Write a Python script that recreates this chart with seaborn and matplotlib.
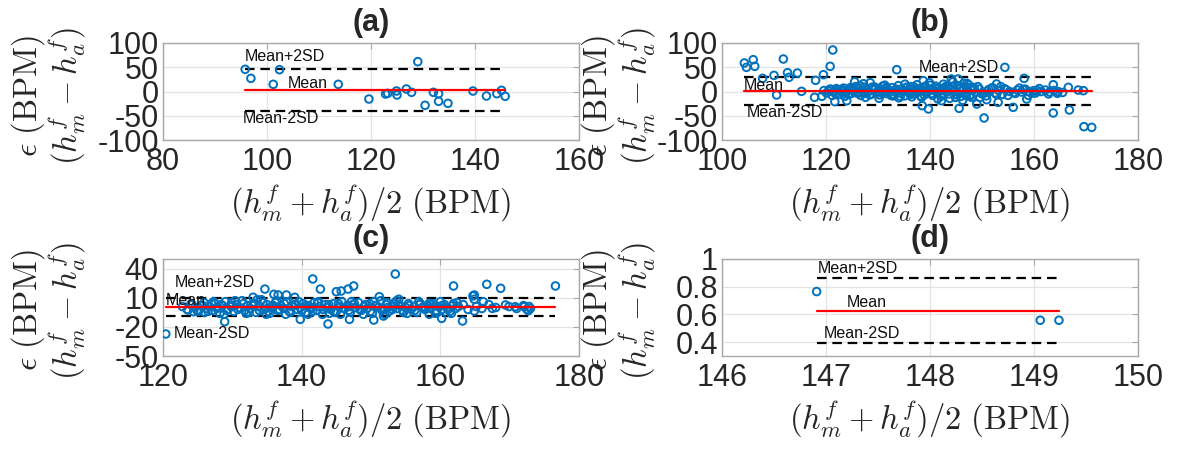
import numpy as np
import matplotlib
matplotlib.use("Agg")
import matplotlib.pyplot as plt
import seaborn as sns
import pandas as pd

sns.set_theme(style="white")
plt.rcParams['font.family'] = ['Liberation Sans', 'DejaVu Sans']
plt.rcParams['mathtext.fontset'] = 'cm'

# ---------------- data ----------------
# panel (a)
a_x = [95.8, 96.9, 102.4, 101.2, 113.7, 129.0, 119.6, 122.8, 123.2, 124.9, 125.0,
       126.8, 127.8, 130.4, 132.0, 133.0, 133.0, 134.8, 139.6, 142.2, 144.2, 145.1, 145.8]
a_y = [45.7, 27.1, 45.0, 14.8, 14.8, 61.5, -15.5, -5.2, -3.8, 1.0, -7.2,
       5.2, -1.7, -28.5, -1.7, -4.5, -20.2, -24.4, 1.0, -9.3, -4.5, 2.4, -9.9]

# panel (b)
b_x = [104.3, 104.7, 106.0, 106.3, 107.8, 110.0, 110.5, 111.8, 112.6, 112.9, 114.5, 115.3,
       117.8, 118.0, 119.5, 120.8, 121.3, 119.2, 121.7, 124.0,
       133.6, 154.4, 158.1, 138.5, 139.7, 145.6, 150.4, 149.0, 150.9, 153.1, 156.0, 158.6,
       163.7, 166.8, 163.7, 166.6, 148.2, 152.8, 147.7, 149.6, 142.2, 145.4, 144.1, 138.7,
       147.1, 169.6, 171.1, 168.5, 169.5, 164.5, 159.9,
       119.6, 120.1, 120.5, 121.0, 121.4, 121.8, 122.3, 122.6, 123.0, 123.4, 123.8, 124.1,
       124.5, 124.9, 125.2, 125.5, 125.7, 126.0, 126.3, 126.7, 127.0, 127.2, 127.5, 127.9,
       128.2, 128.5, 128.8, 129.1, 129.4, 129.7, 130.0, 130.3, 130.6, 130.9, 131.2, 131.5,
       131.8, 132.1, 132.4, 132.7, 133.0, 133.3, 133.6, 133.9, 134.2, 134.5, 134.8, 135.1,
       135.4, 135.7, 136.0, 136.3, 136.6, 136.9, 137.2, 137.5, 137.8, 138.1, 138.4, 138.7,
       139.0, 139.3, 139.6, 139.9, 140.2, 140.5, 140.8, 141.1, 141.4, 141.7, 142.0, 142.3,
       142.6, 142.9, 143.2, 143.5, 143.8, 144.1, 144.4, 144.7, 145.0, 145.3, 145.6, 145.9,
       146.2, 146.5, 146.8, 147.2, 147.7, 148.3, 148.8, 149.5, 150.3, 151.0, 151.8, 152.5,
       153.2, 153.9, 154.6, 155.3, 156.1, 156.8, 157.6, 158.3, 159.1, 159.9, 160.6, 161.4,
       162.2, 163.0, 163.8, 164.6, 165.5,
       121.2, 122.0, 123.6, 124.7, 126.5, 127.6, 128.9, 130.2, 131.3, 132.9, 134.0, 135.2,
       136.5, 137.0, 138.9, 140.0, 141.5, 143.0, 144.9, 146.0, 146.3, 147.4, 148.0, 149.2,
       150.8, 152.0, 153.6, 155.0, 157.2, 158.9, 161.0, 162.8,
       120.8, 121.9, 123.1, 124.3, 125.3, 126.1, 127.4, 128.4, 129.5, 130.5, 131.6, 132.5,
       133.5, 134.3, 135.5, 136.2, 137.3, 138.2, 139.1, 140.3, 141.0, 142.1, 142.7, 143.6,
       144.5, 145.2, 146.4, 147.0, 148.5, 150.0, 151.3, 152.8, 154.3, 156.4, 157.9, 160.3]
b_y = [58.8, 49.8, 65.6, 51.9, 27.1, 33.3, -7.2, 67.0, 38.8, 29.2, 38.1, 0.3,
       -12.0, 23.0, 34.7, 51.9, 85.6, -9.9, -21.0, -19.0,
       45.0, 49.8, 27.1, -29.2, -36.0, -34.7, -54.6, -25.8, -16.9, -22.3, -32.6, -15.5,
       -44.3, -38.1, 14.0, 8.6, 8.6, 15.5, -8.7, -12.0, -19.0, 25.8, 25.8, 22.3,
       16.9, -72.5, -73.9, 3.0, 1.7, -3.7, 1.7,
       2, -3, 1, 4, -1, 0, 3, -6, 1, 7, -2, 0,
       4, -4, 2, 20, 10, -1, 5, -8, 2, 16, -3, 6,
       0, 18, -5, 3, 9, -2, 1, -7, 4, 11, 0, -4,
       6, 2, -1, 8, -6, 3, 0, 12, -3, 5, 1, -9,
       7, 2, -2, 10, 4, -5, 1, 14, -1, 6, -12, 3,
       8, -4, 0, 18, 5, -8, 2, 11, -2, 7, 1, -6,
       15, 3, -1, 9, -14, 4, 20, 0, -5, 12, 6, -10,
       2, 17, -3, 8, -7, 3, -2, 5, -4, 1, 6, -3,
       2, -6, 4, 0, -2, 3, -1, 5, 0, -3, 2, 0,
       3, -1, 2, 0, -2,
       -8, 6, -10, 8, 12, -12, 9, -14, 13, -9, -13, 15,
       -11, 9, -7, 13, -15, 10, -12, 9, -18, 14, -12, 10,
       -9, 8, 10, -8, 7, -8, 6, -5,
       5, -5, 4, -6, 7, -4, 9, -7, 6, -3, 8, -8,
       5, -10, 9, -6, 4, -9, 11, -4, 7, -10, 6, -5,
       10, -7, 5, -9, 7, -5, 4, -6, 6, -4, 4, -3]

# panel (c)
c_x = [120.4, 128.9, 134.7, 136.0, 136.6, 137.8, 139.0, 133.0, 139.8, 141.6, 142.7, 143.8,
       145.0, 123.6, 124.4, 145.7, 146.7, 147.5, 153.5, 151.2, 154.0, 146.9, 150.4, 151.8,
       158.4, 160.2, 159.3, 161.9, 163.2, 164.7, 164.9, 166.2, 166.7, 168.7, 167.5, 164.9,
       169.4, 170.8, 172.1, 176.6, 164.9, 172.7,
       122.8, 123.5, 124.0, 124.6, 125.1, 125.5, 125.9, 126.3, 126.7, 127.1, 127.5, 127.9,
       128.2, 128.6, 129.0, 129.4, 129.8, 130.2, 130.6, 131.0, 131.4, 131.8, 132.2, 132.6,
       133.0, 133.4, 133.8, 134.2, 134.6, 135.0, 135.4, 135.8, 136.2, 136.6, 137.0, 137.4,
       137.8, 138.2, 138.6, 139.0, 139.4, 139.8, 140.2, 140.6, 141.0, 141.4, 141.8, 142.2,
       142.6, 143.0, 143.4, 143.8, 144.2, 144.6, 145.0, 145.4, 145.8, 146.2, 146.6, 147.0,
       147.4, 147.8, 148.2, 148.6, 149.0, 149.4, 149.8, 150.2, 150.6, 151.0, 151.4, 151.8,
       152.2, 152.6, 153.0, 153.4, 153.8, 154.2, 154.6, 155.0, 155.4, 155.8, 156.2, 156.6,
       157.0, 157.4, 157.8, 158.2, 158.6, 159.0, 159.4, 159.8, 160.2, 160.6, 161.0, 161.4,
       161.8, 162.2, 162.6, 163.3, 164.0, 165.2, 166.0, 167.0, 168.0, 169.9, 171.0, 172.0,
       172.5, 173.0, 172.8,
       126.0, 127.3, 128.8, 130.4, 132.0, 133.6, 134.9, 136.4, 137.7, 139.6, 140.9, 142.4,
       144.0, 145.6, 147.2, 148.9, 150.4, 152.0, 153.7, 155.2, 156.9, 158.4, 160.0, 161.6,
       162.4, 130.0, 135.6, 141.2, 146.9, 152.4, 157.6,
       124.2, 124.9, 125.7, 126.5, 127.0, 127.8, 128.4, 129.2, 129.9, 130.8, 131.6, 132.4,
       133.1, 133.9, 134.4, 135.2, 135.9, 136.8, 137.5, 138.4, 139.2, 140.0, 140.7, 141.6,
       142.3, 143.1, 143.9, 144.7, 145.3, 146.1, 146.8, 147.6, 148.4, 149.2, 149.9, 150.8,
       151.6, 152.3, 153.1, 153.9, 154.7, 155.5, 156.3, 157.1, 157.9, 158.7, 159.5, 160.3,
       161.1, 161.9]
c_y = [-27.3, -14.6, 19.0, 13.6, 12.9, 12.9, 10.5, 10.5, -12.2, 29.4, 19.0, -17.0,
       16.3, -2.6, -4.3, 17.0, 19.0, 22.2, 34.5, 11.1, 8.5, -12.2, -12.9, -8.8,
       4.3, -11.2, -6.0, 22.2, -13.9, 11.9, 8.5, 6.0, 23.9, 19.8, -0.9, -3.6,
       2.6, 0.8, 0.8, 22.2, 12.9, -3.3,
       1, -2, 3, 0, -4, 2, 5, -1, 1, -3, 4, 0,
       -6, 2, 6, -2, 1, -4, 3, 0, 7, -3, 2, -1,
       4, -5, 1, 8, -2, 3, -6, 0, 5, -3, 2, -1,
       6, -4, 1, 3, -2, 0, 4, -5, 2, -1, 5, -3,
       1, -7, 3, 0, -2, 4, -4, 1, 6, -1, 2, -5,
       3, 0, 5, -3, 1, -1, 4, -6, 2, 0, 7, -2,
       3, -4, 1, 5, -1, 2, -3, 0, 4, -2, 1, -5,
       3, 0, -2, 2, -1, 4, -3, 1, -2, 3, 0, -4,
       2, -1, 1, 3, -2, 1, -1, 3, 0, 1, -1, 2,
       -2, -1, 1,
       -5, 6, -7, 7, -6, 8, -7, 7, -7, 6, -7, 6,
       -6, -7, 6, -7, 6, -7, 7, -6, 6, -7, 6, -6,
       5, 2, 1, 0, 1, 0, 1,
       3, -3, 2, -4, 4, -1, 3, -3, 5, -2, 4, -5,
       2, -3, 5, -4, 2, -2, 4, -5, 3, -3, 2, -4,
       5, -2, 3, -5, 4, -1, -3, 4, -2, 3, -4, 2,
       -3, 5, -2, 3, -5, 2, -3, 4, -1, 3, -4, 2,
       -2, 4]

# panel (d)
d_x = [146.91, 149.06, 149.24]
d_y = [0.765, 0.558, 0.558]

panels = ["(a)", "(b)", "(c)", "(d)"]
xs = [a_x, b_x, c_x, d_x]
ys = [a_y, b_y, c_y, d_y]

# limits of agreement
mean_vals = [3.0, 1.5, 0.5, 0.628]
upper_vals = [46.0, 30.0, 10.0, 0.866]
lower_vals = [-40.0, -27.0, -9.0, 0.393]

xlims = [(80, 160), (100, 180), (120, 180), (146, 150)]
ylims = [(-100, 100), (-100, 100), (-50, 50), (0.3, 1.0)]
xticks = [[80, 100, 120, 140, 160], [100, 120, 140, 160, 180],
          [120, 140, 160, 180], [146, 147, 148, 149, 150]]
yticks = [[-100, -50, 0, 50, 100], [-100, -50, 0, 50, 100],
          [-50, -20, 10, 40], [0.4, 0.6, 0.8, 1.0]]
yticklabels = [["-100", "-50", "0", "50", "100"], ["-100", "-50", "0", "50", "100"],
               ["-50", "-20", "10", "40"], ["0.4", "0.6", "0.8", "1"]]

# text anchors (x, y) for Mean+2SD, Mean, Mean-2SD
txt_up = [(95.7, 72), (137.8, 50), (121.7, 26), (146.92, 0.93)]
txt_mean = [(103.9, 15.5), (104.1, 12), (120.4, 7.7), (147.2, 0.687)]
txt_low = [(95.4, -55), (104.7, -43), (121.5, -26.6), (146.98, 0.463)]

# ---------------- layout ----------------
W, H = 1181, 449
fig = plt.figure(figsize=(W / 100, H / 100), dpi=100)
boxes = [(163, 43, 416, 97), (722, 43, 416, 97), (163, 259, 416, 97), (722, 259, 416, 97)]
ylab_x = [-0.18, -0.154, -0.18, -0.154]
ylab_y = [0.45, 0.45, 0.47, 0.47]

blue = "#0072BD"
grid_c = "#e3e3e3"
spine_c = "#a8a8a8"

for i in range(4):
    l, t, w, h = boxes[i]
    ax = fig.add_axes([l / W, 1 - (t + h) / H, w / W, h / H])
    ax.set_xlim(*xlims[i])
    ax.set_ylim(*ylims[i])
    ax.set_xticks(xticks[i])
    ax.set_xticklabels([str(v) for v in xticks[i]])
    ax.set_yticks(yticks[i])
    ax.set_yticklabels(yticklabels[i])
    ax.grid(True, color=grid_c, lw=0.9)
    ax.set_axisbelow(True)
    for s in ax.spines.values():
        s.set_color(spine_c)
        s.set_linewidth(1.0)
    ax.tick_params(axis='both', labelsize=22, labelcolor="#262626", direction='in',
                   length=4, width=0.8, top=True, right=True, color=spine_c)
    ax.tick_params(axis='x', pad=5)
    ax.tick_params(axis='y', pad=3)

    x = np.array(xs[i]); y = np.array(ys[i])
    df = pd.DataFrame({"x": x, "y": y})
    xmin, xmax = x.min(), x.max()
    ax.plot([xmin, xmax], [upper_vals[i]] * 2, color="black", lw=1.6,
            dashes=(4.3, 2.6), zorder=2)
    ax.plot([xmin, xmax], [lower_vals[i]] * 2, color="black", lw=1.6,
            dashes=(4.3, 2.6), zorder=2)
    sns.scatterplot(data=df, x="x", y="y", ax=ax, marker="o", s=30,
                    facecolors="none", edgecolor=blue, linewidth=1.4, zorder=3)
    ax.plot([xmin, xmax], [mean_vals[i]] * 2, color="#FF0000", lw=1.6, zorder=4)

    ax.text(*txt_up[i], "Mean+2SD", fontsize=11.5, va="center", ha="left", color="#111111", zorder=5)
    ax.text(*txt_mean[i], "Mean", fontsize=11.5, va="center", ha="left", color="#111111", zorder=5)
    ax.text(*txt_low[i], "Mean-2SD", fontsize=11.5, va="center", ha="left", color="#111111", zorder=5)

    ax.set_title(panels[i], fontsize=22, fontweight="bold", pad=9)
    ax.set_xlabel(r"$(h_m^f+h_a^f)/2\ (\mathrm{BPM})$", fontsize=23.5, color="#262626")
    ax.set_ylabel("$\\epsilon\\ (\\mathrm{BPM})$\n$(h_m^f-h_a^f)$", fontsize=23.5,
                  color="#262626", linespacing=1.0)
    ax.xaxis.set_label_coords(0.5, -0.44)
    ax.yaxis.set_label_coords(ylab_x[i], ylab_y[i])

fig.savefig("out.png", dpi=100)
